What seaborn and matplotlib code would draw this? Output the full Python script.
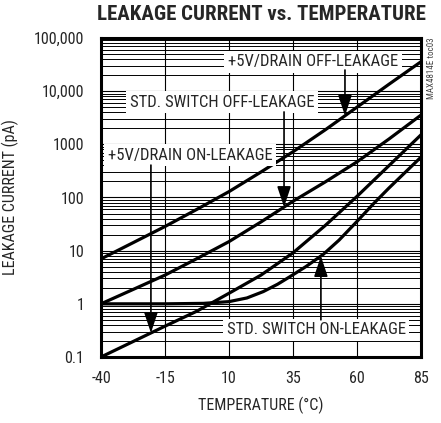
import numpy as np
import pandas as pd
import matplotlib
matplotlib.use("Agg")
import matplotlib.pyplot as plt
import matplotlib.ticker as mticker
import seaborn as sns

# ---- data ----
temps = [-40, -27.5, -15, -2.5, 10, 22.5, 35, 47.5, 60, 72.5, 85]
drain_off = [7.0, 14.1, 28.5, 60, 129, 302, 725, 1860, 5000, 13500, 35800]
std_off = [1.0, 1.86, 3.47, 7.1, 14.8, 34.7, 85, 195, 468, 1260, 3550]
drain_on = [0.1, 0.195, 0.38, 0.73, 1.58, 3.47, 9.1, 29.5, 105, 398, 1510]
std_on_temps = [-40, -15, 0, 10, 17, 23.4, 29, 33.8, 40, 46.8, 53, 60, 66.4, 72.5, 85]
std_on = [1.0, 1.0, 1.02, 1.1, 1.29, 1.7, 2.34, 3.24, 5.0, 8.5, 15.8, 35.5, 76, 151, 575]

x_ticks = [-40, -15, 10, 35, 60, 85]
y_ticks = [0.1, 1, 10, 100, 1000, 10000, 100000]
y_tick_labels = ["0.1", "1", "10", "100", "1000", "10,000", "100,000"]

series_names = ["+5V/DRAIN OFF-LEAKAGE", "STD. SWITCH OFF-LEAKAGE",
                "+5V/DRAIN ON-LEAKAGE", "STD. SWITCH ON-LEAKAGE"]

frames = [
    pd.DataFrame({"temp": temps, "leak": drain_off, "series": series_names[0]}),
    pd.DataFrame({"temp": temps, "leak": std_off, "series": series_names[1]}),
    pd.DataFrame({"temp": temps, "leak": drain_on, "series": series_names[2]}),
    pd.DataFrame({"temp": std_on_temps, "leak": std_on, "series": series_names[3]}),
]
df = pd.concat(frames, ignore_index=True)

sns.set_style("white")
plt.rcParams["font.family"] = ["Roboto Condensed", "DejaVu Sans"]

fig = plt.figure(figsize=(4.41, 4.23), dpi=100)
ax = fig.add_axes([101 / 441, 1 - 357 / 423, 320 / 441, 319 / 423])

sns.lineplot(data=df, x="temp", y="leak", hue="series", palette=["black"] * 4,
             legend=False, linewidth=2.3, ax=ax, sort=True)

ax.set_yscale("log")
ax.set_xlim(-40, 85)
ax.set_ylim(0.1, 100000)
ax.set_xticks(x_ticks)
ax.set_xticklabels([str(t) for t in x_ticks])
ax.set_yticks(y_ticks)
ax.set_yticklabels(y_tick_labels)
ax.yaxis.set_minor_locator(mticker.LogLocator(base=10, subs=range(2, 10), numticks=20))
ax.yaxis.set_minor_formatter(mticker.NullFormatter())
ax.tick_params(which="both", length=0)
ax.tick_params(axis="y", pad=12, labelsize=11.5)
ax.tick_params(axis="x", pad=10, labelsize=11.5)

ax.set_axisbelow(True)
ax.grid(which="major", axis="both", color="black", linewidth=0.8)
ax.grid(which="minor", axis="y", color="black", linewidth=0.7)
for s in ax.spines.values():
    s.set_visible(True)
    s.set_color("black")
    s.set_linewidth(2.2)

ax.set_xlabel("TEMPERATURE (°C)", fontsize=11.5, labelpad=8)
ax.set_ylabel("LEAKAGE CURRENT (pA)", fontsize=11.5, labelpad=11)

fig.text(261 / 441, 1 - 14.5 / 423, "LEAKAGE CURRENT vs. TEMPERATURE",
         ha="center", va="center", fontsize=15, fontweight="black")
fig.text(431 / 441, 1 - 37 / 423, "MAX4814E toc03", rotation=90,
         ha="center", va="top", fontsize=6.5, color="#444444")

box = dict(facecolor="white", edgecolor="none", pad=2.5)
label_pos = [(0.6625, 0.925), (0.378, 0.799), (0.278, 0.633), (0.672, 0.085)]
for name, (px, py) in zip(series_names, label_pos):
    ax.text(px, py, name, transform=ax.transAxes, ha="center", va="center",
            fontsize=12, bbox=box, zorder=3)

def curve_at(t, xs, ys):
    return 10 ** np.interp(t, xs, np.log10(ys))

arrow_props = dict(arrowstyle="-|>,head_length=0.9,head_width=0.3",
                   color="black", lw=1.2, shrinkA=0, shrinkB=0, mutation_scale=14)
arrows = [
    (55.3, 25000, temps, drain_off),
    (31.5, 4070, temps, std_off),
    (-20.5, 407, temps, drain_on),
    (45.9, 0.5, std_on_temps, std_on),
]
for t, y0, xs, ys in arrows:
    ax.annotate("", xy=(t, curve_at(t, xs, ys)), xytext=(t, y0),
                arrowprops=arrow_props, zorder=4)

fig.savefig("out.png", dpi=100)
